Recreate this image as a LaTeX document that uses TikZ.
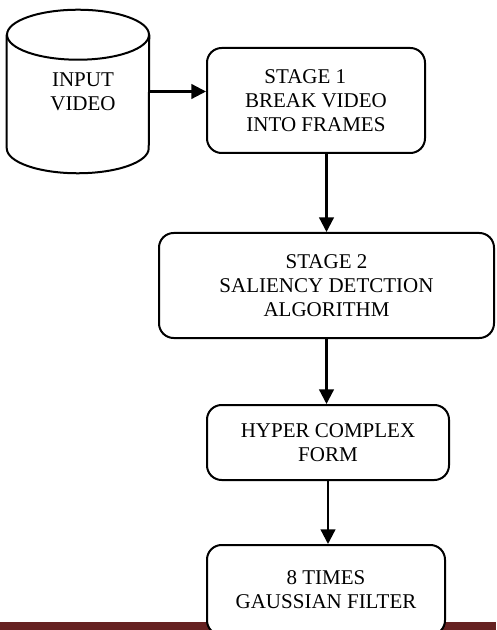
\documentclass[tikz,border=0pt]{standalone}
\usepackage{fontspec}
\setmainfont{Liberation Serif}
\usepackage{xcolor}
\usetikzlibrary{arrows.meta}
\definecolor{barred}{RGB}{102,34,34}

\begin{document}
\begin{tikzpicture}[x=0.75pt,y=-0.75pt,
    stagebox/.style={draw,line width=1.5pt,rounded corners=11pt,fill=white,align=center,inner sep=0pt,font=\fontsize{15.75}{18}\selectfont},
    flow/.style={line width=1.7pt,-{Triangle[length=11pt,width=11pt]}}]
    \useasboundingbox (0,0) rectangle (496,630);
    \clip (0,0) rectangle (496,630);
    \fill[barred] (0,622) rectangle (496,630);
    \node[minimum width=106.5pt,minimum height=122.25pt,inner sep=0pt,align=center,font=\fontsize{15.75}{18}\selectfont] (video) at (78,91.5) {\hspace*{7.5pt}INPUT\\\hspace*{7.5pt}VIDEO};
    \draw[line width=1.5pt] ([yshift=-18.75pt]video.north) ellipse [x radius=53.25pt,y radius=18.75pt];
    \draw[line width=1.5pt] ([yshift=-18.75pt]video.north west) -- ([yshift=18.75pt]video.south west) arc[start angle=180,end angle=360,x radius=53.25pt,y radius=18.75pt] -- ([yshift=-18.75pt]video.north east);
    \node[stagebox,minimum width=163.5pt,minimum height=78.75pt] (frames) at (316,100.5) {STAGE 1\hspace*{16pt}\\BREAK VIDEO\\INTO FRAMES};
    \node[stagebox,minimum width=251.25pt,minimum height=78.75pt] (saliency) at (326.5,285.5) {STAGE 2\\SALIENCY DETCTION\\ALGORITHM};
    \node[stagebox,minimum width=181.5pt,minimum height=56.25pt] (hyper) at (328,442.5) {HYPER COMPLEX\\FORM};
    \node[stagebox,minimum width=178.5pt,minimum height=67.5pt] (gauss) at (326,590) {8 TIMES\\GAUSSIAN FILTER};
    \draw[flow] (video.east) -- (video.east -| frames.west);
    \draw[flow] (saliency.north |- frames.south) -- (saliency.north);
    \draw[flow] (saliency.south) -- (saliency.south |- hyper.north);
    \draw[flow] (hyper.south) -- (hyper.south |- gauss.north);
\end{tikzpicture}
\end{document}
